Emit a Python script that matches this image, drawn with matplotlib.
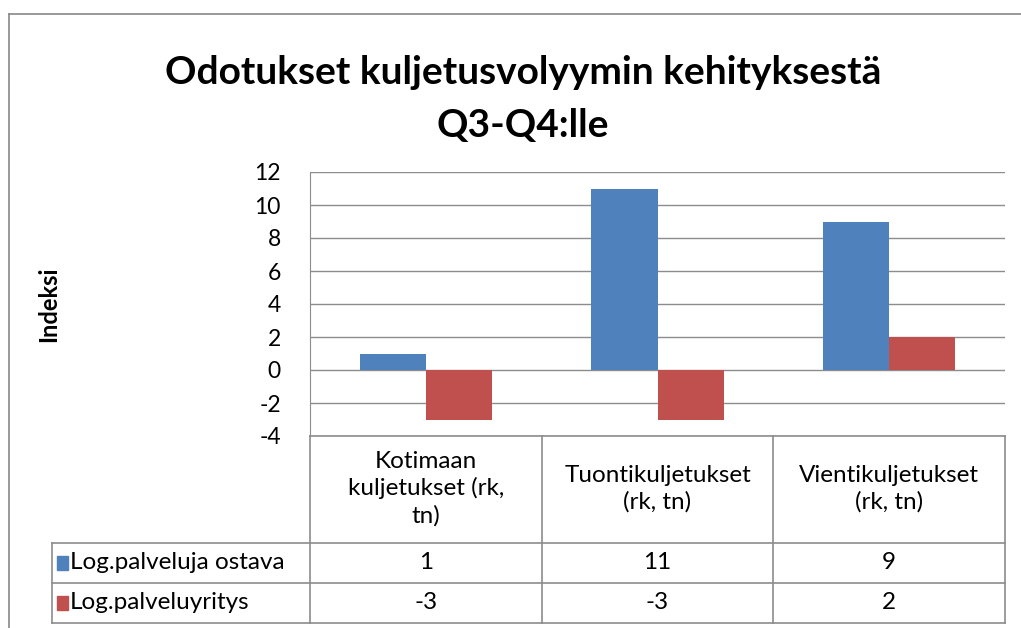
import matplotlib.pyplot as plt
import numpy as np

# data
categories = ['Kotimaan\nkuljetukset (rk,\ntn)', 'Tuontikuljetukset\n(rk, tn)', 'Vientikuljetukset\n(rk, tn)']
series_names = ['Log.palveluja ostava', 'Log.palveluyritys']
ostava = [1, 11, 9]
palveluyritys = [-3, -3, 2]
yticks = [-4, -2, 0, 2, 4, 6, 8, 10, 12]

blue = '#4F81BD'
red = '#C0504D'
grid_c = '#8C8C8C'

plt.rcParams['font.family'] = ['Lato', 'DejaVu Sans']

W, H = 1021, 628
fig = plt.figure(figsize=(W / 100, H / 100), dpi=100)

# outer chart border (only top and left visible)
fig.add_artist(plt.Line2D([9 / W, 1], [1 - 14 / H, 1 - 14 / H], color='#888888', lw=1.2))
fig.add_artist(plt.Line2D([9 / W, 9 / W], [0, 1 - 14 / H], color='#888888', lw=1.2))

fig.text(523 / W, 1 - 99 / H, 'Odotukset kuljetusvolyymin kehityksestä\nQ3-Q4:lle',
         ha='center', va='center', fontsize=28, fontweight='bold', linespacing=1.65)

# plot area
px0, px1, py_top, py_bot = 310, 1005, 172, 436
ax = fig.add_axes([px0 / W, 1 - py_bot / H, (px1 - px0) / W, (py_bot - py_top) / H])
x = np.arange(len(ostava)) + 0.5
bw = 0.285
ax.bar(x - bw / 2, ostava, bw, color=blue, zorder=3)
ax.bar(x + bw / 2, palveluyritys, bw, color=red, zorder=3)
ax.set_xlim(0, 3)
ax.set_ylim(-4, 12)
ax.set_yticks(yticks)
ax.set_yticklabels([str(t) for t in yticks], fontsize=16.5)
ax.set_xticks([])
ax.tick_params(axis='y', length=0, pad=21)
ax.grid(axis='y', color=grid_c, lw=1)
for s in ['top', 'right', 'bottom']:
    ax.spines[s].set_visible(False)
ax.spines['left'].set_color(grid_c)
ax.set_ylabel('Indeksi', fontsize=17, fontweight='bold', labelpad=0)
ax.yaxis.set_label_coords(-(px0 - 60) / (px1 - px0), 0.5)

# data table
tx0, tx1, ty_top, ty_bot = 52, 1005, 436, 623
tax = fig.add_axes([tx0 / W, 1 - ty_bot / H, (tx1 - tx0) / W, (ty_bot - ty_top) / H])
tax.set_xlim(tx0, tx1)
tax.set_ylim(ty_bot, ty_top)
tax.axis('off')
col_w = (px1 - px0) / 3
cols = [px0 + i * col_w for i in range(4)]
rows = [436, 543, 583, 623]
lc = '#8C8C8C'
tax.plot([px0, px1], [rows[0], rows[0]], color=lc, lw=1.2, clip_on=False)
for r in rows[1:]:
    tax.plot([tx0, tx1], [r, r], color=lc, lw=1.2, clip_on=False)
for c in cols:
    tax.plot([c, c], [rows[0], rows[3]], color=lc, lw=1.2, clip_on=False)
tax.plot([tx0, tx0], [rows[1], rows[3]], color=lc, lw=1.2, clip_on=False)

for i, cat in enumerate(categories):
    tax.text(cols[i] + col_w / 2, (rows[0] + rows[1]) / 2 - 1, cat, ha='center', va='center',
             fontsize=17.5, linespacing=1.3)

for j, (name, vals, col) in enumerate([(series_names[0], ostava, blue), (series_names[1], palveluyritys, red)]):
    yc = (rows[j + 1] + rows[j + 2]) / 2
    tax.add_patch(plt.Rectangle((57, yc - 7), 11, 14, color=col, clip_on=False))
    tax.text(70, yc, name, ha='left', va='center', fontsize=17.5)
    for i, v in enumerate(vals):
        tax.text(cols[i] + col_w / 2, yc, str(v), ha='center', va='center', fontsize=17.5)

fig.savefig('out.png', dpi=100)
